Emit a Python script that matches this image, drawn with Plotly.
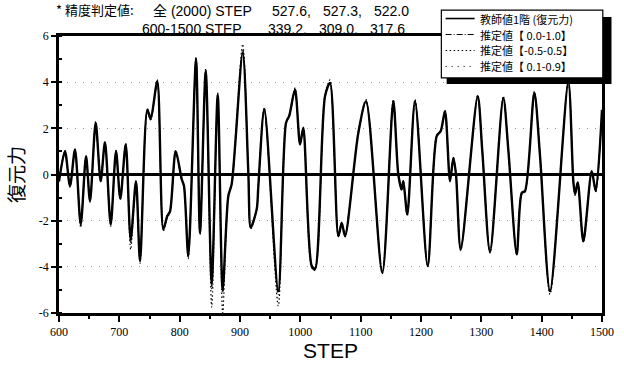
import plotly.graph_objects as go

# ---------------- data ----------------
steps = [600, 609.9, 618.2, 626.5, 636.0, 644.8, 651.4, 660.8, 669.1, 676.2,
         685.7, 694.5, 701.6, 710.6, 718.8, 727.6, 734.3, 746.4, 752.0, 762.9,
         772.9, 779.5, 784.0, 793.4, 803.4, 807.2, 814.3, 827.1, 833.7, 843.2,
         853.1, 863.1, 871.3, 880.6, 886.3, 904.5, 913.8, 917.8, 927.7, 930.4,
         940.3, 963.5, 976.3, 981.7, 991.2, 999.5, 1004.9, 1018.9, 1024.3, 1040.9,
         1049.2, 1063.0, 1068.6, 1074.1, 1096.1, 1108.9, 1135.9, 1154.1, 1162.4, 1168.0,
         1170.7, 1177.3, 1190.1, 1211.1, 1226.0, 1232.7, 1239.8, 1248.1, 1253.6, 1258.0,
         1265.8, 1294.0, 1301.6, 1314.4, 1336.4, 1344.7, 1358.7, 1367.0, 1372.4, 1387.8,
         1397.3, 1413.9, 1444.2, 1452.5, 1455.3, 1459.8, 1469.1, 1483.0, 1489.6, 1500]

teacher = [-0.3, 1.01, -0.5, 1.08, -2.16, 0.79, -1.15, 2.24, -0.29, 1.4,
           -2.16, 1.01, -1.05, 1.3, -2.81, -0.29, -3.75, 2.81, 2.41, 4.04,
           -2.38, -1.8, -1.6, 1.01, -0.2, -0.5, -3.54, 4.98, -2.53, 4.47,
           -4.69, 3.46, -4.98, -0.94, -0.4, 5.27, 0.07, -2.3, -1.5, -0.5,
           2.84, -5.05, 2.24, 2.55, 3.68, 1.3, 2.02, -3.97, -4.1, 3.39,
           3.97, -2.67, -2.1, -2.67, 1.8, 3.18, -4.26, 3.18, 0.0, -0.65,
           -0.29, -1.73, 3.18, -3.97, 1.66, 1.88, 2.74, -0.29, 0.72, 0.0,
           -3.25, 3.39, 1.01, -3.36, 3.32, 1.08, -3.46, -0.8, -0.72, 3.54,
           0.8, -5.05, 4.0, -0.3, -0.85, -0.34, -2.89, 0.14, -0.72, 2.8]

est_00_10 = [-0.25, 0.95, -0.45, 1.0, -2.1, 0.75, -1.1, 2.15, -0.25, 1.35,
             -2.2, 0.95, -1.0, 1.25, -2.95, -0.25, -3.7, 2.7, 2.35, 3.95,
             -2.3, -1.75, -1.55, 0.95, -0.25, -0.55, -3.5, 5.05, -2.5, 4.5,
             -4.9, 3.4, -5.1, -0.9, -0.45, 5.4, 0.1, -2.25, -1.45, -0.45,
             2.8, -5.2, 2.2, 2.5, 3.6, 1.35, 2.0, -3.9, -4.05, 3.35,
             4.0, -2.6, -2.05, -2.6, 1.75, 3.15, -4.2, 3.2, 0.05, -0.6,
             -0.25, -1.7, 3.15, -3.9, 1.6, 1.85, 2.7, -0.25, 0.7, 0.05,
             -3.2, 3.35, 1.05, -3.3, 3.3, 1.1, -3.4, -0.75, -0.7, 3.5,
             0.85, -5.1, 4.05, -0.25, -0.8, -0.3, -2.85, 0.1, -0.7, 2.75]

est_m05_05 = [-0.3, 1.05, -0.55, 1.1, -2.3, 0.8, -1.2, 2.3, -0.3, 1.45,
              -2.25, 1.05, -1.1, 1.35, -3.25, -0.3, -3.85, 2.85, 2.45, 4.1,
              -2.45, -1.85, -1.65, 1.05, -0.2, -0.5, -3.65, 5.1, -2.6, 4.6,
              -5.75, 3.55, -6.0, -0.95, -0.4, 5.65, 0.05, -2.35, -1.55, -0.5,
              2.9, -5.7, 2.3, 2.6, 3.75, 1.3, 2.05, -4.05, -4.15, 3.45,
              4.1, -2.7, -2.15, -2.7, 1.85, 3.25, -4.3, 3.25, 0.0, -0.7,
              -0.3, -1.8, 3.25, -4.0, 1.7, 1.9, 2.8, -0.3, 0.75, 0.0,
              -3.3, 3.45, 1.0, -3.4, 3.4, 1.05, -3.5, -0.85, -0.75, 3.6,
              0.8, -5.2, 4.1, -0.3, -0.9, -0.35, -2.95, 0.15, -0.75, 2.85]

est_01_09 = [-0.28, 1.0, -0.5, 1.05, -2.2, 0.78, -1.12, 2.2, -0.28, 1.38,
             -2.2, 1.0, -1.05, 1.28, -3.0, -0.28, -3.8, 2.75, 2.4, 4.0,
             -2.35, -1.8, -1.6, 1.0, -0.22, -0.52, -3.6, 5.0, -2.55, 4.5,
             -5.0, 3.5, -5.3, -0.92, -0.42, 5.45, 0.08, -2.3, -1.5, -0.48,
             2.85, -5.4, 2.25, 2.55, 3.7, 1.32, 2.02, -4.0, -4.1, 3.4,
             4.0, -2.65, -2.1, -2.65, 1.8, 3.2, -4.25, 3.2, 0.02, -0.65,
             -0.28, -1.75, 3.2, -3.95, 1.65, 1.88, 2.75, -0.28, 0.72, 0.02,
             -3.25, 3.4, 1.02, -3.35, 3.35, 1.08, -3.45, -0.8, -0.72, 3.55,
             0.82, -5.15, 4.05, -0.28, -0.85, -0.33, -2.9, 0.12, -0.72, 2.8]

legend_names = ["教師値1階 (復元力)", "推定値【 0.0-1.0】", "推定値【-0.5-0.5】", "推定値【 0.1-0.9】"]
note_label = "* 精度判定値:"
note_rows = ["全 (2000) STEP", "600-1500 STEP"]
note_all = ["527.6,", "527.3,", "522.0"]
note_600_1500 = ["339.2,", "309.0,", "317.6"]
x_ticks = [600, 700, 800, 900, 1000, 1100, 1200, 1300, 1400, 1500]
y_ticks = [-6, -4, -2, 0, 2, 4, 6]

# ---------------- figure ----------------
CJK = "Noto Sans CJK JP"
SANS = "Liberation Sans, Noto Sans CJK JP"
W, H = 624, 367
L, R, T, B = 59, 21.5, 36, 53.7
pw, ph = W - L - R, H - T - B


def px(x):
    return (x - L) / pw


def py(y):
    return (H - B - y) / ph


series = [
    (teacher, legend_names[0], dict(color="black", width=2.4)),
    (est_00_10, legend_names[1], dict(color="black", width=1, dash="6px,2px,1px,2px")),
    (est_m05_05, legend_names[2], dict(color="black", width=1.2, dash="1.5px,2.5px")),
    (est_01_09, legend_names[3], dict(color="black", width=1, dash="1px,5px")),
]

fig = go.Figure()
for vals, name, ln in series:
    fig.add_trace(go.Scatter(x=steps, y=vals, name=name, mode="lines", showlegend=False,
                             line=dict(shape="spline", smoothing=0.8, **ln)))

fig.update_layout(
    width=W, height=H,
    margin=dict(l=L, r=R, t=T, b=B, autoexpand=False),
    paper_bgcolor="white", plot_bgcolor="white",
    showlegend=False,
    xaxis=dict(range=[600, 1500], tickvals=x_ticks, ticktext=[str(v) for v in x_ticks],
               showline=True, linecolor="black", linewidth=2.5, mirror=True,
               ticks="outside", ticklen=6, tickwidth=2, tickcolor="black",
               minor=dict(dtick=50, ticks="outside", ticklen=3, tickwidth=1.5, tickcolor="black"),
               showgrid=False, zeroline=False,
               tickfont=dict(family="Liberation Serif", size=12, color="black"),
               title=dict(text="STEP", standoff=6,
                          font=dict(family="Liberation Sans", size=21, color="black"))),
    yaxis=dict(range=[-6, 6], tickvals=y_ticks, ticktext=[str(v) for v in y_ticks],
               showline=True, linecolor="black", linewidth=2.5, mirror=True,
               ticks="outside", ticklen=5, tickwidth=2, tickcolor="black",
               minor=dict(dtick=1, ticks="inside", ticklen=3, tickwidth=1.5, tickcolor="black"),
               showgrid=True, gridcolor="#999999", griddash="1px,7px", gridwidth=1,
               zeroline=True, zerolinecolor="black", zerolinewidth=2.5,
               tickfont=dict(family="Liberation Serif", size=12, color="black"),
               title=dict(text="復元力", standoff=10,
                          font=dict(family=CJK, size=19, color="black"))),
)

# ---- legend box (drawn as shapes + text) ----
fig.add_shape(type="rect", xref="paper", yref="paper",
              x0=px(447), x1=px(612), y0=py(17), y1=py(84),
              fillcolor="black", line=dict(width=0), layer="above")
fig.add_shape(type="rect", xref="paper", yref="paper",
              x0=px(441.7), x1=px(603.3), y0=py(10), y1=py(78),
              fillcolor="white", line=dict(color="black", width=1.2), layer="above")
row_y = [18.5, 34.5, 50.5, 66.5]
for (vals, name, ln), ry in zip(series, row_y):
    sl = dict(color="black", width=min(ln["width"], 1.6))
    if "dash" in ln:
        sl["dash"] = ln["dash"]
    fig.add_shape(type="line", xref="paper", yref="paper",
                  x0=px(446), x1=px(475), y0=py(ry), y1=py(ry), line=sl, layer="above")
    fig.add_annotation(text=name, x=px(479), y=py(ry), xref="paper", yref="paper",
                       xanchor="left", yanchor="middle", showarrow=False, borderpad=0,
                       font=dict(family=CJK, size=11, color="black"))

# ---- accuracy note above the plot ----
ann_font = dict(family=SANS, size=14, color="black")
split = py(19.5)
common = dict(xref="paper", yref="paper", xanchor="left", showarrow=False, borderpad=0)
fig.add_annotation(text=note_label, x=px(55), y=split, yanchor="bottom",
                   font=dict(family=CJK, size=13, color="black"), **common)
fig.add_annotation(text=note_rows[0], x=px(152), y=split, yanchor="bottom", font=ann_font, **common)
fig.add_annotation(text=note_rows[1], x=px(141), y=split, yanchor="top", font=ann_font, **common)
for txt, xx in zip(note_all, [271, 322, 373]):
    fig.add_annotation(text=txt, x=px(xx), y=split, yanchor="bottom", font=ann_font, **common)
for txt, xx in zip(note_600_1500, [267, 318, 369]):
    fig.add_annotation(text=txt, x=px(xx), y=split, yanchor="top", font=ann_font, **common)

fig.write_html("out.html")
